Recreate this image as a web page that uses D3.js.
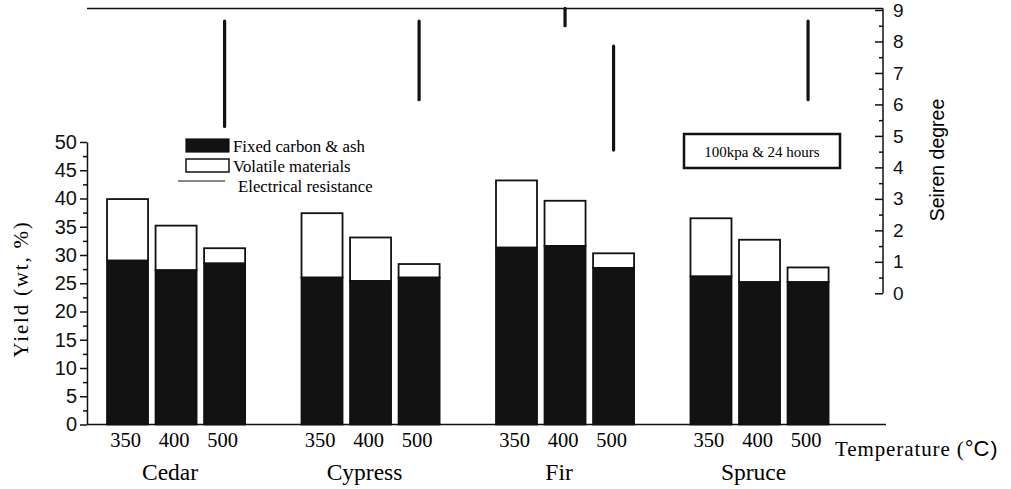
<!DOCTYPE html>
<html>
<head>
<meta charset="utf-8">
<script src="https://cdn.jsdelivr.net/npm/d3@7"></script>
<style>
  body { margin: 0; background: #fff; }
  svg { display: block; }
</style>
</head>
<body>
<svg></svg>
<script>
const w = 1011
const h = 489
const svg = d3.select("svg").attr("width", w).attr("height", h)

// data
const species = ["Cedar", "Cypress", "Fir", "Spruce"]
const temps = ["350", "400", "500"]
const fixedCarbon = [
    [29.0, 27.3, 28.5],
    [26.0, 25.4, 26.0],
    [31.3, 31.6, 27.7],
    [26.2, 25.2, 25.2]
]
const volatiles = [
    [10.9, 7.9, 2.7],
    [11.4, 7.7, 2.4],
    [11.9, 8.0, 2.6],
    [10.3, 7.5, 2.6]
]
// seiren degree ranges (electrical resistance), [species, temp, low, high]
const seirenRanges = [
    ["Cedar", "500", 5.3, 8.65],
    ["Cypress", "500", 6.15, 8.65],
    ["Fir", "400", 8.5, 9.05],
    ["Fir", "500", 4.55, 7.85],
    ["Spruce", "500", 6.15, 8.65]
]
const yTicks = d3.range(0, 51, 5)
const rTicks = d3.range(0, 10, 1)

const serif = "'Liberation Serif', 'Times New Roman', serif"
const sans = "'Liberation Sans', Arial, sans-serif"

//scales
const xGroup = d3.scaleBand().domain(species).range([87, 848.6]).paddingInner(0.29).paddingOuter(0.103)
const xTemp = d3.scaleBand().domain(temps).range([0, xGroup.bandwidth()]).paddingInner(0.155)
const y = d3.scaleLinear().domain([0, 50]).range([424.5, 142])
const yR = d3.scaleLinear().domain([0, 9]).range([293.3, 10])

const xLeft = 87
const xRight = 883
const xBottomEnd = 886

// bars
const rows = []
species.forEach((s, i) => temps.forEach((t, j) => {
    rows.push({ s, t, fixed: fixedCarbon[i][j], vol: volatiles[i][j] })
}))

const bars = svg.append("g").attr("id", "bars")
bars.selectAll(".vol")
    .data(rows)
    .enter()
    .append("rect")
    .attr("class", "vol")
    .attr("x", d => xGroup(d.s) + xTemp(d.t))
    .attr("width", xTemp.bandwidth())
    .attr("y", d => y(d.fixed + d.vol))
    .attr("height", d => y(d.fixed) - y(d.fixed + d.vol))
    .attr("fill", "#fff")
    .attr("stroke", "#111")
    .attr("stroke-width", 1.8)
bars.selectAll(".fixed")
    .data(rows)
    .enter()
    .append("rect")
    .attr("class", "fixed")
    .attr("x", d => xGroup(d.s) + xTemp(d.t))
    .attr("width", xTemp.bandwidth())
    .attr("y", d => y(d.fixed))
    .attr("height", d => y(0) - y(d.fixed))
    .attr("fill", "#121212")
    .attr("stroke", "#111")
    .attr("stroke-width", 1.8)

// seiren range lines
svg.append("g").selectAll("line")
    .data(seirenRanges)
    .enter()
    .append("line")
    .attr("x1", d => xGroup(d[0]) + xTemp(d[1]) + xTemp.bandwidth() / 2)
    .attr("x2", d => xGroup(d[0]) + xTemp(d[1]) + xTemp.bandwidth() / 2)
    .attr("y1", d => yR(d[3]))
    .attr("y2", d => yR(d[2]))
    .attr("stroke", "#111")
    .attr("stroke-width", 3.2)
    .attr("stroke-linecap", "round")

// frame lines: top and bottom
svg.append("line")
    .attr("x1", xLeft).attr("x2", xRight)
    .attr("y1", yR(9.05)).attr("y2", yR(9.05))
    .attr("stroke", "#111").attr("stroke-width", 1.6)
svg.append("line")
    .attr("x1", xLeft).attr("x2", xBottomEnd)
    .attr("y1", y(0)).attr("y2", y(0))
    .attr("stroke", "#111").attr("stroke-width", 1.6)

// left axis
const leftAxis = svg.append("g")
    .attr("transform", `translate(${xLeft},0)`)
    .call(d3.axisLeft(y).tickValues(yTicks).tickSizeInner(7).tickSizeOuter(0).tickPadding(3))
leftAxis.append("g")
    .call(d3.axisLeft(y).tickValues(d3.range(2.5, 50, 5)).tickSize(4).tickFormat(""))
    .select(".domain").remove()
leftAxis.selectAll("text").attr("font-family", sans).attr("font-size", 20).attr("fill", "#111")
leftAxis.selectAll("line, path").attr("stroke", "#111").attr("stroke-width", 1.5)

// right axis, ticks pointing inward
const rightAxis = svg.append("g")
    .attr("transform", `translate(${xRight},0)`)
    .call(d3.axisRight(yR).tickValues(rTicks).tickSizeInner(-8).tickSizeOuter(0).tickPadding(10))
rightAxis.append("g")
    .call(d3.axisRight(yR).tickValues(d3.range(0.5, 9, 1)).tickSize(-4).tickFormat(""))
    .select(".domain").remove()
rightAxis.select(".domain").attr("d", `M0,${yR(9.05)}V${yR(0)}`)
rightAxis.selectAll("text").attr("font-family", sans).attr("font-size", 19).attr("fill", "#111")
rightAxis.selectAll("line, path").attr("stroke", "#111").attr("stroke-width", 1.5)

// axis titles
svg.append("text")
    .attr("transform", `translate(28,289) rotate(-90)`)
    .attr("text-anchor", "middle")
    .attr("font-family", serif).attr("font-size", 21).attr("letter-spacing", 1.8)
    .text("Yield (wt, %)")
svg.append("text")
    .attr("transform", `translate(944,160) rotate(-90)`)
    .attr("text-anchor", "middle")
    .attr("font-family", sans).attr("font-size", 19.5)
    .text("Seiren degree")

// temperature and species labels
svg.append("g").selectAll("text")
    .data(rows)
    .enter()
    .append("text")
    .attr("x", d => xGroup(d.s) + xTemp(d.t) + xTemp.bandwidth() / 2 - 2)
    .attr("y", 447)
    .attr("text-anchor", "middle")
    .attr("font-family", serif).attr("font-size", 20.5)
    .text(d => d.t)
svg.append("g").selectAll("text")
    .data(species)
    .enter()
    .append("text")
    .attr("x", d => xGroup(d) + xGroup.bandwidth() / 2 - 6)
    .attr("y", 480)
    .attr("text-anchor", "middle")
    .attr("font-family", serif).attr("font-size", 23.5)
    .text(d => d)

const tempTitle = svg.append("text")
    .attr("x", 835).attr("y", 456)
    .attr("font-family", serif).attr("font-size", 21).attr("letter-spacing", 0.9)
tempTitle.append("tspan").text("Temperature (")
tempTitle.append("tspan").attr("font-family", sans).attr("font-size", 22).attr("letter-spacing", 0).text("°C")
tempTitle.append("tspan").attr("font-family", sans).attr("dx", 1).text(")")

// legend
const legend = svg.append("g").attr("id", "legend")
legend.append("rect").attr("x", 186).attr("y", 139).attr("width", 43).attr("height", 13)
    .attr("fill", "#121212").attr("stroke", "#111").attr("stroke-width", 1.2)
legend.append("rect").attr("x", 186).attr("y", 159).attr("width", 43).attr("height", 13)
    .attr("fill", "#fff").attr("stroke", "#111").attr("stroke-width", 1.5)
legend.append("line").attr("x1", 178).attr("x2", 225).attr("y1", 181).attr("y2", 181)
    .attr("stroke", "#111").attr("stroke-width", 1.2)
const legendText = [["Fixed carbon & ash", 233, 152], ["Volatile materials", 233, 172], ["Electrical resistance", 238, 192]]
legend.selectAll("text")
    .data(legendText)
    .enter()
    .append("text")
    .attr("x", d => d[1]).attr("y", d => d[2])
    .attr("font-family", serif).attr("font-size", 16.8)
    .text(d => d[0])

// condition box
svg.append("rect")
    .attr("x", 684).attr("y", 134).attr("width", 156).attr("height", 34)
    .attr("fill", "#fff").attr("stroke", "#111").attr("stroke-width", 2.5)
svg.append("text")
    .attr("x", 762).attr("y", 157)
    .attr("text-anchor", "middle")
    .attr("font-family", serif).attr("font-size", 15)
    .text("100kpa & 24 hours")
</script>
</body>
</html>
